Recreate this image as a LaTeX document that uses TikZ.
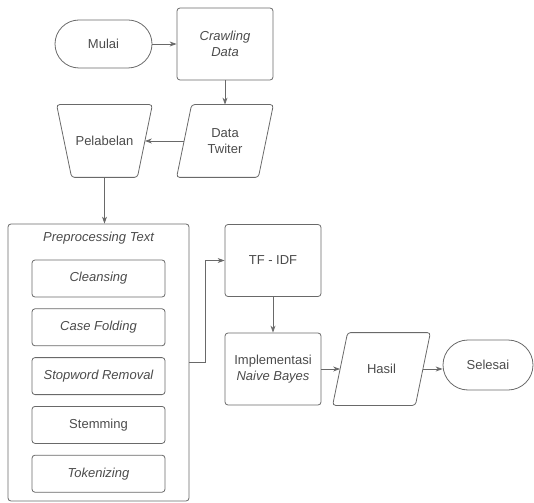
\documentclass[tikz,border=0pt]{standalone}
\usepackage{fontspec}
\setmainfont{Liberation Sans}
\usetikzlibrary{arrows.meta,positioning}
\definecolor{linegray}{RGB}{105,105,105}
\definecolor{textgray}{RGB}{75,75,75}
% jajaran genjang (input/output) di sekitar node bernama #1
\newcommand{\leanbox}[1]{\draw[draw=linegray,rounded corners=3pt] ([xshift=15pt]#1.north west) -- (#1.north east)
  -- ([xshift=-15pt]#1.south east) -- (#1.south west) -- cycle;}

\begin{document}
\begin{tikzpicture}[x=1pt,y=-1pt,font=\fontsize{13}{16}\selectfont,text=textgray,line width=0.8pt,
  >={Stealth[length=7pt,width=5pt]}]
\tikzstyle{terminal}=[draw=linegray,rounded corners=24pt,minimum width=97pt,minimum height=48pt]
\tikzstyle{process}=[draw=linegray,rounded corners=3pt,minimum width=96pt,minimum height=72pt,align=center]
\tikzstyle{io}=[minimum width=96pt,minimum height=72pt,align=center]
\tikzstyle{substep}=[draw=linegray,rounded corners=3pt,minimum width=133pt,minimum height=37pt]
\useasboundingbox (0,0) rectangle (534,502);
% baris atas
\node [terminal] (mulai) at (103.5,44) {Mulai};
\node [process] (crawl) at (225,44) {\itshape Crawling\\\itshape Data};
\node [io] (twit) at (225,141) {Data\\Twiter};
\node [io,minimum width=95pt] (label) at (104.5,141) {Pelabelan};
\leanbox{twit}
\draw [draw=linegray,rounded corners=3pt] (label.north west) -- (label.north east)
  -- ([xshift=-15pt]label.south east) -- ([xshift=15pt]label.south west) -- cycle;
% preprocessing
\node [draw=linegray,rounded corners=3pt,minimum width=181pt,minimum height=277pt] (prep) at (98.5,362.5) {};
\node (preptitle) at (98.5,238) {\itshape Preprocessing Text};
\node [substep] (clean) at (98.5,278.5) {\itshape Cleansing};
\node [substep,below=11pt of clean] (fold) {\itshape Case Folding};
\node [substep,below=11pt of fold] (stop) {\itshape Stopword Removal};
\node [substep,below=11pt of stop] (stem) {Stemming};
\node [substep,below=11pt of stem] (token) {\itshape Tokenizing};
% kanan
\node [process] (tfidf) at (273,260.5) {TF - IDF};
\node [process] (impl) at (273,369) {Implementasi\\\itshape Naive Bayes};
\node [io,minimum width=97pt] (hasil) at (381.5,369) {Hasil};
\leanbox{hasil}
\node [terminal,minimum width=90pt,minimum height=50pt,rounded corners=25pt] (selesai) at (488,365) {Selesai};
\path[every edge/.style={draw=linegray,->}]
    (mulai) edge (crawl)
    (crawl) edge (twit)
    ([xshift=7.5pt]twit.west) edge ([xshift=-7.5pt]label.east)
    (label.south) edge (label.south |- prep.north)
    (tfidf) edge (impl)
    (impl) edge ([xshift=7.5pt]hasil.west)
    ([xshift=-7.5pt]hasil.east) edge (hasil.east -| selesai.west);
\draw [draw=linegray,->] (prep.east) -- ++(16,0) |- (tfidf.west);
\end{tikzpicture}
\end{document}
